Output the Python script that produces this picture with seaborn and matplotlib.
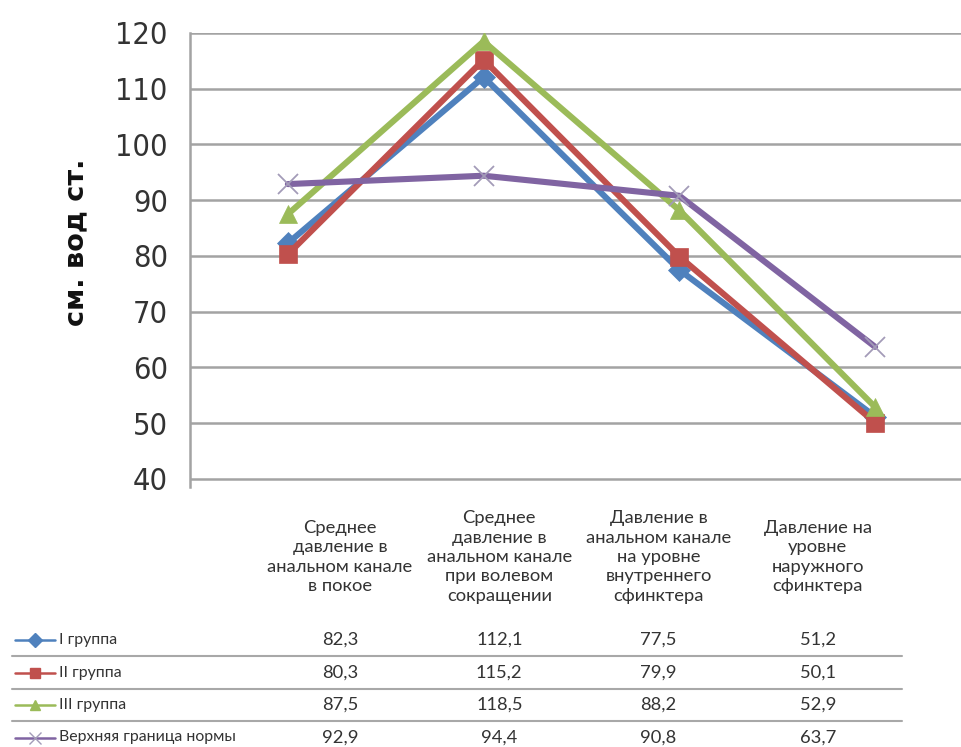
import numpy as np
import pandas as pd
import seaborn as sns
import matplotlib
matplotlib.use("Agg")
import matplotlib.pyplot as plt
from matplotlib import font_manager as fm

# ---- data ----
categories = [
    "Среднее\nдавление в\nанальном канале\nв покое",
    "Среднее\nдавление в\nанальном канале\nпри волевом\nсокращении",
    "Давление в\nанальном канале\nна уровне\nвнутреннего\nсфинктера",
    "Давление на\nуровне\nнаружного\nсфинктера",
]
series_names = ["I группа", "II группа", "III группа", "Верхняя граница нормы"]
group1 = [82.3, 112.1, 77.5, 51.2]
group2 = [80.3, 115.2, 79.9, 50.1]
group3 = [87.5, 118.5, 88.2, 52.9]
upper_norm = [92.9, 94.4, 90.8, 63.7]
y_ticks = [40, 50, 60, 70, 80, 90, 100, 110, 120]
y_label = "см. вод ст."

series_values = [group1, group2, group3, upper_norm]
colors = ["#4F81BD", "#C0504D", "#9BBB59", "#8064A2"]
markers = ["D", "s", "^", "x"]

df = pd.DataFrame({
    "pos": np.tile(np.arange(len(categories)), len(series_names)),
    "value": np.concatenate(series_values),
    "series": np.repeat(series_names, len(categories)),
})

sns.set_theme(style="white")
names = {f.name for f in fm.fontManager.ttflist}
text_font = next((n for n in ["Lato", "Open Sans", "Noto Sans"] if n in names), "DejaVu Sans")
plt.rcParams["font.family"] = [text_font, "DejaVu Sans"]

# narrow face for the value axis, if one is available
condensed = [f for f in fm.fontManager.ttflist
             if f.stretch in ("condensed", "semi-condensed", "extra-condensed")
             and f.weight in (400, "normal", "regular") and f.style == "normal"]
if condensed:
    tick_prop = fm.FontProperties(fname=condensed[0].fname, size=22)
else:
    tick_prop = fm.FontProperties(family=text_font, size=19.5)

W, H = 962, 747
fig = plt.figure(figsize=(W / 100, H / 100), dpi=100)
fig.patch.set_facecolor("white")

# ---- chart area ----
x0, x1 = 190, 973          # pixel span of the category axis
y_top, y_bot = 33, 486.8   # pixel span of 120 .. 38.6
ax = fig.add_axes([x0 / W, 1 - y_bot / H, (x1 - x0) / W, (y_bot - y_top) / H])

# seaborn needs all-filled markers; the cross is set on the line afterwards
sns_markers = [m if m != "x" else "o" for m in markers]
sns.lineplot(
    data=df, x="pos", y="value", hue="series", style="series",
    hue_order=series_names, style_order=series_names,
    palette=dict(zip(series_names, colors)),
    markers=dict(zip(series_names, sns_markers)), dashes=False,
    linewidth=4.4, legend=False, ax=ax,
)

marker_sizes = [11, 12.5, 13, 15]
for line, c, ms, m in zip(ax.lines, colors, marker_sizes, markers):
    line.set_marker(m)
    line.set_markersize(ms)
    line.set_solid_capstyle("round")
    if m == "x":
        line.set_markeredgecolor("#a39bb8")
        line.set_markeredgewidth(1.3)
    else:
        line.set_markerfacecolor(c)
        line.set_markeredgecolor(c)
        line.set_markeredgewidth(0.5)

ax.set_xlim(-0.5, len(categories) - 0.5)
ax.set_ylim(38.6, 120)
ax.set_yticks(y_ticks)
ax.set_yticklabels([str(t) for t in y_ticks], fontproperties=tick_prop, color="#333333")
ax.set_xticks([])
ax.set_xlabel("")
ax.set_ylabel("")
ax.tick_params(axis="y", length=0, pad=16)
ax.yaxis.grid(True, color="#a3a3a3", linewidth=1.8)
ax.set_axisbelow(True)
for s in ["top", "right", "bottom"]:
    ax.spines[s].set_visible(False)
ax.spines["left"].set_color("#a3a3a3")
ax.spines["left"].set_linewidth(1.8)

fig.text(76 / W, 1 - 242 / H, y_label, rotation=90, ha="center", va="center",
         fontsize=19.5, fontweight="bold", family=["DejaVu Sans"], color="#111111")

# ---- data table ----
col0, col_step = 340, 159.3     # pixel centre of first column and column spacing
row0, row_step = 640, 32.5      # pixel centre of first row and row spacing
ty0, ty1 = 490, 747
tx = fig.add_axes([0, 1 - ty1 / H, 1, (ty1 - ty0) / H])
tx.set_xlim(-col0 / col_step, (W - col0) / col_step)
tx.set_ylim((ty1 - row0) / row_step, (ty0 - row0) / row_step)
tx.axis("off")

fs = 13.2
header_y = (557 - row0) / row_step
for j, cat in enumerate(categories):
    tx.text(j, header_y, cat, ha="center", va="center", fontsize=fs,
            color="#333333", linespacing=1.25)

for i, (name, vals, c, m) in enumerate(zip(series_names, series_values, colors, markers)):
    for j, v in enumerate(vals):
        tx.text(j, i, f"{v:.1f}".replace(".", ","), ha="center", va="center",
                fontsize=fs, color="#333333")
    tx.text((59 - col0) / col_step, i, name, ha="left", va="center",
            fontsize=11.4, color="#333333")
    icon_x = [(15 - col0) / col_step, (55 - col0) / col_step]
    tx.plot(icon_x, [i, i], color=c, linewidth=1.8)
    mk = dict(marker=m, markersize=7 if m != "x" else 9, color=c)
    if m == "x":
        mk.update(markeredgecolor="#a39bb8", markeredgewidth=1.0)
    tx.plot([np.mean(icon_x)], [i], **mk)

for i in range(len(series_names) - 1):
    tx.plot([(12 - col0) / col_step, (902 - col0) / col_step], [i + 0.5, i + 0.5],
            color="#a8a8a8", linewidth=1.5)

fig.savefig("out.png", dpi=100, facecolor="white")
